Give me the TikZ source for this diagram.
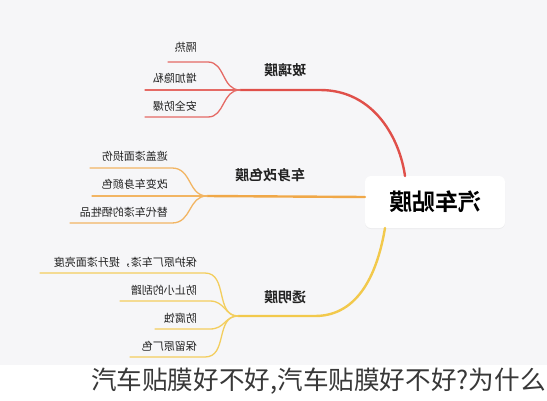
\documentclass[tikz,border=0pt]{standalone}
\usepackage{fontspec}
\newfontfamily\cjk{Noto Sans CJK SC}
\newfontfamily\cjkb{Noto Sans CJK SC Bold}
\usetikzlibrary{shadows}
\definecolor{bg}{HTML}{F6F6F8}
\definecolor{cred}{HTML}{E0504A}
\definecolor{cora}{HTML}{F0A848}
\definecolor{cyel}{HTML}{F2C94C}
\definecolor{txt}{HTML}{222222}
\tikzset{
  leaf/.style={anchor=east, inner sep=0pt, font=\cjk\fontsize{11}{12}\selectfont, text=txt},
  branch/.style={anchor=center, inner sep=0pt, font=\cjkb\fontsize{14}{16}\selectfont, text=txt},
  leafline/.style={line width=1.3pt, line cap=round},
  mainline/.style={line width=2.4pt, line cap=round},
}
\newcommand{\mir}[1]{\reflectbox{#1}}
\begin{document}
\begin{tikzpicture}[x=1pt,y=-1pt]
\useasboundingbox (0,0) rectangle (547,400);
\fill[bg] (0,0) rectangle (547,365);
\fill[white] (0,365) rectangle (547,400);
% center
\node[fill=white, rounded corners=6pt, minimum width=140pt, minimum height=52pt, drop shadow={opacity=0.08, shadow xshift=0pt, shadow yshift=-1pt}, font=\cjkb\fontsize{23}{26}\selectfont, text=black] (c) at (435,202) {\mir{汽车贴膜}};
% junction coordinates
\coordinate (j1) at (240,90);
\coordinate (j2) at (207,196);
\coordinate (j3) at (238,316);
\coordinate (c1) at (405,176);
\coordinate (c2) at (365,197);
\coordinate (c3) at (385,228);
% main branches
\draw[mainline, cred] (j1) -- (320,90) .. controls (375,90) and (400,140) .. (c1);
\draw[mainline, cora] (j2) -- (c2);
\draw[mainline, cyel] (j3) -- (315,316) .. controls (360,316) and (378,270) .. (c3);
% branch labels
\node[branch] (b1) at (285,70) {\mir{玻璃膜}};
\node[branch] (b2) at (270,175) {\mir{车身改色膜}};
\node[branch] (b3) at (285,297) {\mir{透明膜}};
% top leaves
\node[leaf] (l11) at (197,47) {\mir{隔热}};
\node[leaf] (l12) at (197,78) {\mir{增加隐私}};
\node[leaf] (l13) at (197,106) {\mir{安全防爆}};
\draw[leafline, cred!85] (168,62) -- (208,62) .. controls (225,62) and (222,90) .. (j1);
\draw[leafline, cred!85] (145,90) -- (j1);
\draw[leafline, cred!85] (145,117) -- (208,117) .. controls (225,117) and (222,90) .. (j1);
% middle leaves
\node[leaf] (l21) at (168,156) {\mir{遮盖漆面损伤}};
\node[leaf] (l22) at (168,184) {\mir{改变车身颜色}};
\node[leaf] (l23) at (168,212) {\mir{替代车漆的牺牲品}};
\draw[leafline, cora!85] (90,168) -- (172,168) .. controls (192,168) and (188,196) .. (j2);
\draw[leafline, cora!85] (92,196) -- (j2);
\draw[leafline, cora!85] (70,223) -- (172,223) .. controls (192,223) and (188,196) .. (j2);
% bottom leaves
\node[leaf] (l31) at (197,262) {\mir{保护原厂车漆，提升漆面亮度}};
\node[leaf] (l32) at (197,290) {\mir{防止小的刮蹭}};
\node[leaf] (l33) at (197,318) {\mir{防腐蚀}};
\node[leaf] (l34) at (197,346) {\mir{保留原厂色}};
\draw[leafline, cyel!90] (40,273) -- (205,273) .. controls (228,273) and (215,316) .. (j3);
\draw[leafline, cyel!90] (120,301) -- (210,301) .. controls (225,301) and (225,316) .. (j3);
\draw[leafline, cyel!90] (155,329) -- (210,329) .. controls (225,329) and (225,316) .. (j3);
\draw[leafline, cyel!90] (130,357) -- (205,357) .. controls (228,357) and (215,316) .. (j3);
% caption
\node[anchor=west, inner sep=0pt, font=\cjk\fontsize{25.6}{28}\selectfont, text=txt!90] (cap) at (91,381) {汽车贴膜好不好,汽车贴膜好不好?为什么};
\end{tikzpicture}
\end{document}
